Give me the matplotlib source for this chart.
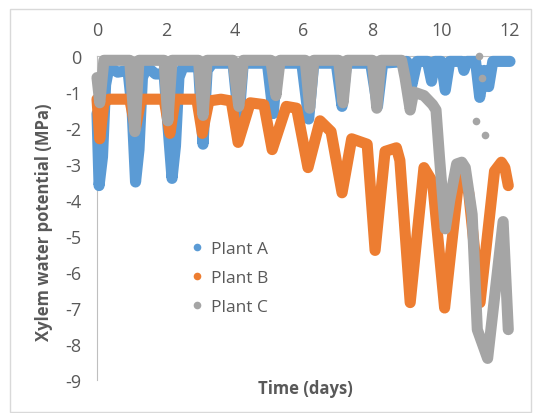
#import packages
import matplotlib.pyplot as plt
from matplotlib.lines import Line2D
from matplotlib.patches import Rectangle

plt.rcParams['font.family'] = ['Open Sans', 'DejaVu Sans']
plt.rcParams['axes.unicode_minus'] = False

#values (time in days, potential in MPa)
a_t = [0.00, 0.06, 0.16, 0.25, 0.35, 0.60, 0.90, 1.02, 1.12, 1.22, 1.32, 1.45, 1.70, 1.95,
       2.05, 2.18, 2.28, 2.38, 2.50, 2.95, 3.08, 3.20, 3.35, 3.95, 4.12, 4.25, 4.95, 5.12,
       5.25, 5.95, 6.15, 6.30, 6.95, 7.12, 7.25, 7.95, 8.15, 8.30, 9.00, 9.15, 9.30, 9.60,
       9.72, 9.82, 10.00, 10.12, 10.25, 10.60, 10.66, 10.75, 11.00, 11.12, 11.25, 11.38,
       11.50, 12.00]
a_v = [-1.6, -3.6, -2.8, -0.8, -0.3, -0.45, -0.4, -1.5, -3.5, -2.6, -0.6, -0.3, -0.5, -0.5,
       -1.8, -3.4, -2.5, -0.6, -0.3, -0.3, -2.45, -0.4, -0.2, -0.2, -1.8, -0.2, -0.2, -1.6,
       -0.2, -0.2, -1.75, -0.2, -0.2, -1.4, -0.2, -0.2, -1.4, -0.2, -0.15, -0.8, -0.15, -0.15,
       -0.7, -0.15, -0.15, -0.95, -0.15, -0.15, -0.4, -0.15, -0.15, -1.15, -0.4, -0.85,
       -0.15, -0.15]

b_t = [0.00, 0.08, 0.20, 0.35, 0.95, 1.12, 1.28, 1.95, 2.12, 2.27, 2.90, 3.06, 3.25, 3.60,
       3.90, 4.10, 4.45, 4.85, 5.09, 5.50, 5.80, 6.13, 6.48, 6.80, 7.12, 7.40, 7.85, 8.08,
       8.37, 8.70, 8.80, 9.10, 9.50, 9.75, 10.10, 10.55, 10.80, 11.13, 11.55, 11.75, 11.85,
       11.95]
b_v = [-1.2, -2.3, -1.3, -1.2, -1.2, -2.0, -1.2, -1.2, -2.15, -1.2, -1.2, -2.15, -1.25, -1.2,
       -1.25, -2.4, -1.3, -1.35, -2.6, -1.4, -1.45, -3.1, -1.8, -2.1, -3.8, -2.3, -2.45, -5.4,
       -2.65, -2.55, -2.9, -6.85, -3.1, -3.5, -7.0, -3.1, -3.8, -6.85, -3.2, -2.95, -3.1,
       -3.6]

c_t = [0.00, 0.08, 0.20, 0.95, 1.10, 1.22, 1.95, 2.06, 2.18, 2.95, 3.08, 3.20, 3.95, 4.12,
       4.25, 5.05, 5.20, 5.32, 6.05, 6.18, 6.30, 7.02, 7.15, 7.27, 8.00, 8.13, 8.25, 8.85,
       8.95, 9.10, 9.20, 9.50, 9.75, 9.85, 9.95, 10.05, 10.12, 10.25, 10.45, 10.60, 10.70,
       10.90, 11.05, 11.35, 11.80, 11.95]
c_v = [-0.6, -1.3, -0.12, -0.12, -2.1, -0.12, -0.12, -1.8, -0.12, -0.12, -1.65, -0.12, -0.12, -1.4,
       -0.12, -0.12, -1.1, -0.12, -0.12, -1.45, -0.12, -0.12, -1.3, -0.12, -0.12, -1.45, -0.12, -0.12,
       -0.6, -1.5, -1.0, -1.1, -1.35, -1.5, -2.8, -4.0, -4.8, -4.0, -3.0, -2.95, -3.1,
       -4.4, -7.6, -8.4, -4.6, -7.6]

#loose grey points around the last days
c_dots_t = [11.00, 11.28, 11.10, 11.20]
c_dots_v = [-1.8, -2.2, 0.0, -0.6]

labels = ['Plant A', 'Plant B', 'Plant C']
colors = ['#5B9BD5', '#ED7D31', '#A5A5A5']

fig = plt.figure(figsize=(5.33, 4.14), dpi=100)
ax = fig.add_axes([97/533, 1-381/414, 413/533, 324/414])

#each series as a thick chain of dots
series = [(a_t, a_v), (b_t, b_v), (c_t, c_v)]
for (t, v), col in zip(series, colors):
    ax.plot(t, v, color=col, lw=8, solid_joinstyle='round', solid_capstyle='round',
            clip_on=False, zorder=3)
ax.plot(c_dots_t, c_dots_v, 'o', color=colors[2], ms=5.5, mew=0, clip_on=False, zorder=3)

ax.set_xlim(0, 12)
ax.set_ylim(-9, 0)
ax.xaxis.tick_top()
ax.set_xticks(range(0, 13, 2))
ax.set_yticks(range(-9, 1))
ax.tick_params(length=0, labelsize=13, colors='#595959')
ax.tick_params(axis='x', pad=12)
ax.tick_params(axis='y', pad=11)
for s in ['right', 'bottom']:
    ax.spines[s].set_visible(False)
for s in ['left', 'top']:
    ax.spines[s].set_color('#BFBFBF')
    ax.spines[s].set_linewidth(0.8)

fig.text(305/533, 1-389/414, 'Time (days)', ha='center', va='center',
         fontsize=12, fontweight='bold', color='#595959')
fig.text(44/533, 1-222/414, 'Xylem water potential (MPa)', rotation=90, ha='center',
         va='center', fontsize=12, fontweight='bold', color='#595959')

#legend with dots only
handles = [Line2D([], [], marker='o', ls='', color=c, ms=5.5, mew=0) for c in colors]
leg = ax.legend(handles, labels, loc='upper left', bbox_to_anchor=(183/533, 1-233/414),
                bbox_transform=fig.transFigure, frameon=False, fontsize=12.5, borderpad=0,
                handlelength=0.6, handletextpad=0.5, labelspacing=0.75)
for txt in leg.get_texts():
    txt.set_color('#595959')

#chart border
fig.patches.append(Rectangle((10/533, 1/414), 521/533, 403/414, transform=fig.transFigure,
                             fill=False, edgecolor='#D9D9D9', lw=1))

fig.savefig('out.png', dpi=100)
